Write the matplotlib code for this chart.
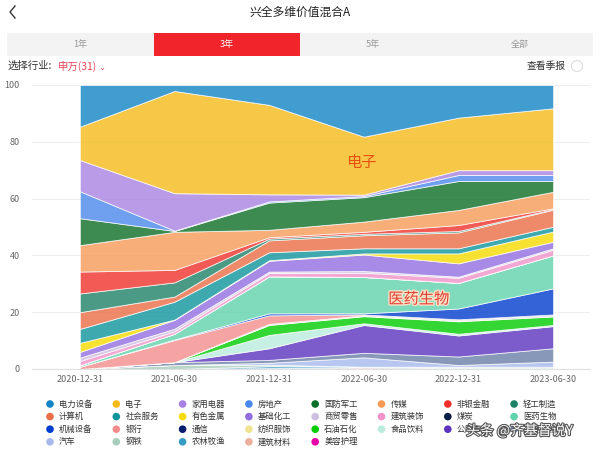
import numpy as np
import matplotlib
matplotlib.use('Agg')
import matplotlib.pyplot as plt
import matplotlib.patheffects as pe
from matplotlib.patches import Rectangle, Circle

plt.rcParams['font.family'] = ['Noto Sans CJK SC', 'DejaVu Sans']

# report dates
dates = ['2020-12-31', '2021-06-30', '2021-12-31', '2022-06-30', '2022-12-31', '2023-06-30']

# industries in legend order (first one is drawn on top of the stack)
industries = ['电力设备', '电子', '家用电器', '房地产', '国防军工', '传媒', '非银金融', '轻工制造',
              '计算机', '社会服务', '有色金属', '基础化工', '商贸零售', '建筑装饰', '煤炭', '医药生物',
              '机械设备', '银行', '通信', '纺织服饰', '石油石化', '食品饮料', '公用事业', '交通运输',
              '汽车', '钢铁', '农林牧渔', '建筑材料', '美容护理']

# holding share (%) per report date, same order as industries
h_2020_12 = [14.7, 11.7, 11.0, 9.5, 9.5, 9.3, 7.7, 6.6,
             5.9, 4.9, 3.2, 2.0, 1.2, 1.5, 0.0, 0.5,
             0.0, 0.8, 0.0, 0.0, 0.0, 0.0, 0.0, 0.0,
             0.0, 0.0, 0.0, 0.0, 0.0]
h_2021_06 = [2.1, 36.0, 13.2, 0.1, 0.3, 13.4, 4.4, 5.0,
             1.8, 6.3, 0.1, 3.1, 0.9, 0.9, 0.0, 2.0,
             0.2, 7.8, 0.0, 0.0, 0.0, 0.0, 0.0, 1.0,
             0.0, 1.4, 0.0, 0.0, 0.0]
h_2021_12 = [7.0, 31.5, 2.5, 0.4, 9.6, 2.6, 0.5, 0.6,
             4.2, 2.8, 0.2, 3.8, 0.5, 1.2, 0.0, 13.0,
             0.7, 3.0, 0.2, 0.2, 3.5, 4.7, 4.1, 1.0,
             0.7, 0.5, 0.7, 0.3, 0.0]
h_2022_06 = [18.2, 20.4, 0.5, 0.4, 8.6, 3.6, 0.7, 0.5,
             4.6, 1.8, 0.4, 5.8, 0.6, 1.5, 0.0, 12.8,
             0.4, 0.3, 0.1, 0.2, 2.5, 0.6, 9.8, 1.6,
             3.3, 0.0, 0.3, 0.5, 0.0]
h_2022_12 = [11.5, 18.5, 1.7, 2.1, 10.2, 5.3, 2.1, 0.5,
             5.6, 1.8, 3.5, 4.7, 0.4, 1.8, 0.0, 9.0,
             3.8, 0.2, 0.2, 0.3, 4.4, 0.6, 7.4, 3.0,
             0.6, 0.3, 0.2, 0.3, 0.0]
h_2023_06 = [8.2, 21.8, 1.7, 2.1, 3.8, 5.8, 0.3, 0.2,
             6.0, 1.7, 3.6, 2.3, 0.5, 2.0, 0.0, 11.6,
             9.2, 0.2, 0.3, 0.2, 3.0, 0.4, 7.8, 4.7,
             1.8, 0.5, 0.3, 0.0, 0.0]

# legend colours; the areas use them at 80% opacity
colors = ['#1283c4', '#f5bb1a', '#a882e2', '#4b88ec', '#0d6e27', '#f79a56', '#ef312b', '#1d8168',
          '#ea6d45', '#0f949c', '#f6db00', '#926de2', '#cebfe0', '#f192c9', '#0a1d46', '#5fd3ab',
          '#003cce', '#f48c8c', '#001d6d', '#efe592', '#00cc00', '#baecdd', '#5b33bf', '#6a7ea6',
          '#a6baec', '#a6ceba', '#379cc4', '#ecb09c', '#e600a8']

fig = plt.figure(figsize=(6, 4.5), dpi=100)
fig.patch.set_facecolor('white')

# main chart, placed in pixel terms
ax = fig.add_axes([32 / 600, 1 - 369 / 450, 558 / 600, 284 / 450])
shares = np.array([h_2020_12, h_2021_06, h_2021_12, h_2022_06, h_2022_12, h_2023_06]).T
x = np.arange(len(dates))
ax.stackplot(x, shares[::-1], colors=colors[::-1], alpha=0.8,
             edgecolor='white', linewidth=0.6)
ax.set_xlim(-48 / 95, 5 + 37 / 95)
ax.set_ylim(0, 100)
ax.set_yticks(range(0, 101, 20))
ax.set_xticks(x)
ax.set_xticklabels(dates)
ax.grid(axis='y', color='#eeeeee', linewidth=0.8)
ax.set_axisbelow(True)
for s in ax.spines.values():
    s.set_visible(False)
ax.spines['bottom'].set_visible(True)
ax.spines['bottom'].set_color('#e0e0e0')
ax.tick_params(axis='y', length=0, labelsize=6.5, labelcolor='#666666', pad=9)
ax.tick_params(axis='x', length=0, labelsize=6.5, labelcolor='#666666', pad=4)

ax.text(2.97, 72.8, '电子', fontsize=11, color='#e8500f', ha='center', va='center')
ax.text(3.58, 24.6, '医药生物', fontsize=11, color='#e04030', ha='center', va='center',
        path_effects=[pe.withStroke(linewidth=2, foreground='#fbe0c8')])

# overlay in pixel coordinates for header and legend
top = fig.add_axes([0, 0, 1, 1])
top.set_xlim(0, 600)
top.set_ylim(450, 0)
top.axis('off')
top.patch.set_alpha(0)

top.plot([15, 10, 15], [6, 12, 18], color='#333333', linewidth=1.0)
top.text(300, 12, '兴全多维价值混合A', fontsize=8.5, color='#222222', ha='center', va='center')

tabs = ['1年', '3年', '5年', '全部']
tab_w = (593 - 7) / len(tabs)
top.add_patch(Rectangle((7, 33), 586, 23, facecolor='#f3f3f3', edgecolor='none'))
for i, t in enumerate(tabs):
    x0 = 7 + i * tab_w
    if i == 1:
        top.add_patch(Rectangle((x0, 33), tab_w, 23, facecolor='#f1232b', edgecolor='none'))
        top.text(x0 + tab_w / 2, 44.5, t, fontsize=6.5, color='white', ha='center', va='center')
    else:
        top.text(x0 + tab_w / 2, 44.5, t, fontsize=6.5, color='#999999', ha='center', va='center')

top.text(8, 66, '选择行业:', fontsize=7.5, color='#333333', ha='left', va='center')
top.text(58, 66, '申万(31)', fontsize=7.5, color='#e8475a', ha='left', va='center')
top.text(98, 67, '⌄', fontsize=6, color='#e8475a', ha='left', va='center', family='DejaVu Sans')
top.text(566, 66, '查看季报', fontsize=7, color='#333333', ha='right', va='center')
top.add_patch(Circle((577, 66), 5.5, facecolor='white', edgecolor='#dddddd', linewidth=0.8))

# legend
for i, (name, c) in enumerate(zip(industries, colors)):
    col, row = i % 8, i // 8
    lx = 50 + col * 66.3
    ly = 404 + row * 12.6
    top.scatter([lx], [ly], s=30, color=c, edgecolors='none')
    top.text(lx + 9, ly, name, fontsize=6, color='#333333', ha='left', va='center')

top.text(466, 431, '头条 @齐基督说Y', fontsize=10, color='white', ha='left', va='center',
         path_effects=[pe.withStroke(linewidth=1.6, foreground='#555555')])

fig.savefig('out.png', dpi=100)
